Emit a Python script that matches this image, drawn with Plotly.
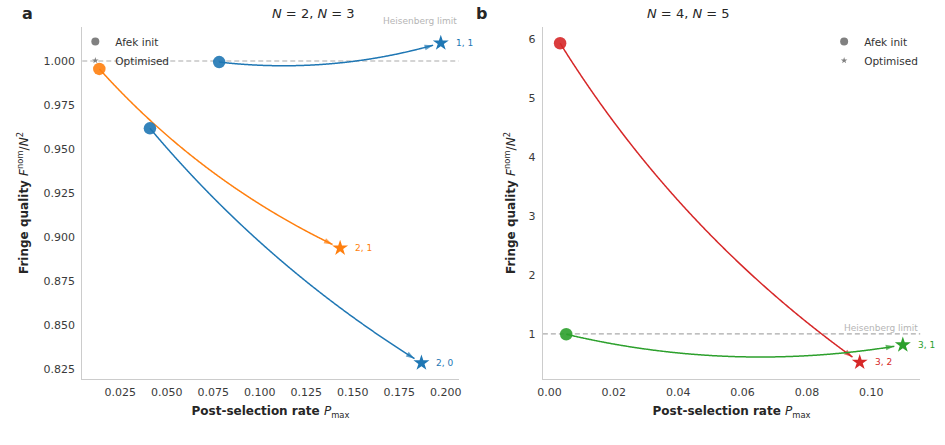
import numpy as np
import plotly.graph_objects as go

# ---------------- data ----------------
labels_a = ["1, 1", "2, 1", "2, 0"]
colors_a = ["#1f77b4", "#ff7f0e", "#1f77b4"]
init_x_a = [0.0782, 0.0138, 0.0410]
init_y_a = [0.9994, 0.9955, 0.9618]
opt_x_a = [0.1973, 0.1432, 0.1869]
opt_y_a = [1.0102, 0.8938, 0.8286]

labels_b = ["3, 2", "3, 1"]
colors_b = ["#d62728", "#2ca02c"]
init_x_b = [0.0033, 0.0052]
init_y_b = [5.925, 0.995]
opt_x_b = [0.0964, 0.1098]
opt_y_b = [0.520, 0.814]

xticks_a = [0.025, 0.050, 0.075, 0.100, 0.125, 0.150, 0.175, 0.200]
yticks_a = [0.825, 0.850, 0.875, 0.900, 0.925, 0.950, 0.975, 1.000]
xticks_b = [0.00, 0.02, 0.04, 0.06, 0.08, 0.10]
yticks_b = [1, 2, 3, 4, 5, 6]

heisenberg = 1.0
heisenberg_text_y = 1.02

# ---------------- layout geometry ----------------
W, H = 945, 445
PA = dict(x0=77, x1=457, y0=27, y1=379, xr=(0.00463, 0.2069), yr=(0.8195, 1.0193))
PB = dict(x0=542, x1=923, y0=27, y1=379, xr=(-0.00207, 0.1152), yr=(0.237, 6.20))
rads_a = [0.1, 0.1, 0.08]
rads_b = [0.1, 0.1]


def to_px(p, x, y):
    px = p["x0"] + (x - p["xr"][0]) / (p["xr"][1] - p["xr"][0]) * (p["x1"] - p["x0"])
    py = p["y1"] - (y - p["yr"][0]) / (p["yr"][1] - p["yr"][0]) * (p["y1"] - p["y0"])
    return np.array([px, py])


def from_px(p, pt):
    x = p["xr"][0] + (pt[..., 0] - p["x0"]) / (p["x1"] - p["x0"]) * (p["xr"][1] - p["xr"][0])
    y = p["yr"][0] + (p["y1"] - pt[..., 1]) / (p["y1"] - p["y0"]) * (p["yr"][1] - p["yr"][0])
    return x, y


def arc3(p, xa, ya, xb, yb, rad, shrink=8.0):
    A = to_px(p, xa, ya)
    B = to_px(p, xb, yb)
    M = (A + B) / 2
    dx, dy = B - A
    C = np.array([M[0] - rad * dy, M[1] + rad * dx])
    t = np.linspace(0, 1, 400)[:, None]
    pts = (1 - t) ** 2 * A + 2 * t * (1 - t) * C + t ** 2 * B
    d = np.hypot(*(pts - B).T)
    pts = pts[d >= shrink]
    return from_px(p, pts)


fig = go.Figure()


def add_panel(p, xref, yref, labels, colors, ix, iy, ox, oy, rads, legend):
    # Heisenberg limit
    fig.add_shape(type="line", xref=f"{xref} domain", yref=yref, x0=0, x1=1,
                  y0=heisenberg, y1=heisenberg,
                  line=dict(color="#aaaaaa", width=1.2, dash="5px,3px"), layer="below")
    fig.add_annotation(xref=f"{xref} domain", yref=f"{yref} domain", x=1,
                       y=(heisenberg_text_y - p["yr"][0]) / (p["yr"][1] - p["yr"][0]),
                       text="Heisenberg limit", showarrow=False, xanchor="right", yanchor="bottom",
                       yshift=-2, font=dict(size=9, color="#b5b5b5"))
    for i in range(len(labels)):
        cx, cy = arc3(p, ix[i], iy[i], ox[i], oy[i], rads[i])
        fig.add_trace(go.Scatter(x=cx, y=cy, mode="lines",
                                 line=dict(color=colors[i], width=1.5, simplify=False),
                                 xaxis=xref, yaxis=yref, showlegend=False, hoverinfo="skip"))
        n = len(cx)
        fig.add_trace(go.Scatter(x=[cx[n - 12], cx[-1]], y=[cy[n - 12], cy[-1]], mode="markers",
                                 marker=dict(symbol="arrow", angleref="previous", size=[0, 9],
                                             color=colors[i], line=dict(width=0)),
                                 xaxis=xref, yaxis=yref, showlegend=False, hoverinfo="skip"))
    for i in range(len(labels)):
        fig.add_trace(go.Scatter(x=[ix[i]], y=[iy[i]], mode="markers",
                                 marker=dict(symbol="circle", size=12.5, color=colors[i], opacity=0.9),
                                 xaxis=xref, yaxis=yref, showlegend=False, hoverinfo="skip"))
        fig.add_trace(go.Scatter(x=[ox[i]], y=[oy[i]], mode="markers",
                                 marker=dict(symbol="star", size=12, color=colors[i]),
                                 xaxis=xref, yaxis=yref, showlegend=False, hoverinfo="skip"))
        fig.add_annotation(x=ox[i], y=oy[i], xref=xref, yref=yref, text=labels[i],
                           showarrow=False, xanchor="left", xshift=13,
                           font=dict(size=9, color=colors[i]))
    # legend dummies
    fig.add_trace(go.Scatter(x=[None], y=[None], mode="markers", name="Afek init",
                             marker=dict(symbol="circle", size=8, color="#808080"),
                             xaxis=xref, yaxis=yref, legend=legend))
    fig.add_trace(go.Scatter(x=[None], y=[None], mode="markers", name="Optimised",
                             marker=dict(symbol="star", size=5, color="#808080"),
                             xaxis=xref, yaxis=yref, legend=legend))


add_panel(PA, "x", "y", labels_a, colors_a, init_x_a, init_y_a, opt_x_a, opt_y_a, rads_a, "legend")
add_panel(PB, "x2", "y2", labels_b, colors_b, init_x_b, init_y_b, opt_x_b, opt_y_b, rads_b, "legend2")

axis_common = dict(showgrid=False, zeroline=False, showline=True, linecolor="#cccccc",
                   linewidth=1.25, ticks="", tickfont=dict(size=11, color="#3a3a3a"),
                   mirror=False)
ydom = [1 - PA["y1"] / H, 1 - PA["y0"] / H]
xtitle = "<b>Post-selection rate </b><i>P</i><sub>max</sub>"
ytitle = "<b>Fringe quality </b><i>F</i><sup>nom</sup>/<i>N</i><sup>2</sup>"

fig.update_layout(
    width=W, height=H, margin=dict(l=0, r=0, t=0, b=0),
    paper_bgcolor="white", plot_bgcolor="white",
    font=dict(family="DejaVu Sans", color="#262626"),
    xaxis=dict(domain=[PA["x0"] / W, PA["x1"] / W], range=list(PA["xr"]), anchor="y",
               tickvals=xticks_a, tickformat=".3f", ticklabelstandoff=3,
               title=dict(text=xtitle, font=dict(size=12), standoff=8), **axis_common),
    yaxis=dict(domain=ydom, range=list(PA["yr"]), anchor="x", tickvals=yticks_a, tickformat=".3f",
               ticklabelstandoff=4,
               title=dict(text=ytitle, font=dict(size=12), standoff=12), **axis_common),
    xaxis2=dict(domain=[PB["x0"] / W, PB["x1"] / W], range=list(PB["xr"]), anchor="y2",
                tickvals=xticks_b, tickformat=".2f", ticklabelstandoff=3,
                title=dict(text=xtitle, font=dict(size=12), standoff=8), **axis_common),
    yaxis2=dict(domain=ydom, range=list(PB["yr"]), anchor="x2", tickvals=yticks_b, tickformat="d",
                ticklabelstandoff=4,
                title=dict(text=ytitle, font=dict(size=12), standoff=10), **axis_common),
    legend=dict(x=70 / W, y=1 - 27 / H, xanchor="left", yanchor="top", bgcolor="rgba(0,0,0,0)",
                font=dict(size=10.5, color="#333333"), itemwidth=30),
    legend2=dict(x=826 / W, y=1 - 27 / H, xanchor="left", yanchor="top", bgcolor="rgba(0,0,0,0)",
                 font=dict(size=10.5, color="#333333"), itemwidth=30),
)

# titles and panel labels
fig.add_annotation(xref="paper", yref="paper", x=(PA["x0"] + PA["x1"]) / 2 / W, y=1 - 14 / H,
                   yanchor="middle",
                   text="<i>N</i> = 2, <i>N</i> = 3", showarrow=False, font=dict(size=13, color="#262626"))
fig.add_annotation(xref="paper", yref="paper", x=(PB["x0"] + PB["x1"]) / 2 / W, y=1 - 14 / H,
                   yanchor="middle",
                   text="<i>N</i> = 4, <i>N</i> = 5", showarrow=False, font=dict(size=13, color="#262626"))
fig.add_annotation(xref="paper", yref="paper", x=14 / W, y=1 - 14 / H, text="<b>a</b>",
                   yanchor="middle",
                   showarrow=False, font=dict(size=16, color="#262626"))
fig.add_annotation(xref="paper", yref="paper", x=480 / W, y=1 - 14 / H, text="<b>b</b>",
                   yanchor="middle",
                   showarrow=False, font=dict(size=16, color="#262626"))

fig.write_html("out.html")
